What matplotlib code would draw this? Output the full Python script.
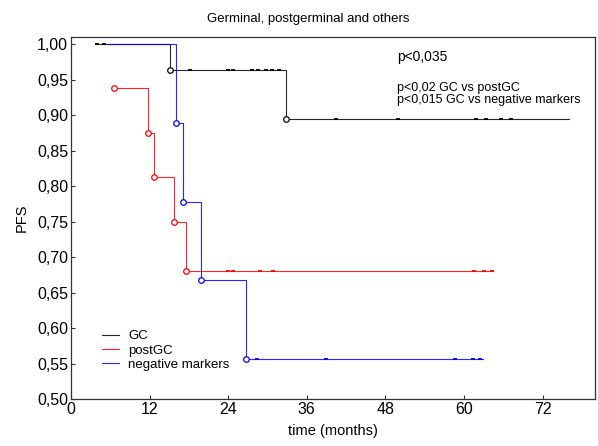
import matplotlib
matplotlib.use("Agg")
import matplotlib.pyplot as plt
from matplotlib.ticker import FuncFormatter

plt.rcParams['font.family'] = ['Liberation Sans', 'DejaVu Sans']

# Kaplan-Meier step data: start time, event times with survival after each event,
# last follow-up time and censored observation times
gc_start = 4.0
gc_times = [15.1, 32.8]
gc_surv = [0.963, 0.894]
gc_end = 76.0
gc_censor_t = [4.0, 5.0, 18.2, 24.0, 24.8, 27.7, 28.6, 29.7, 30.7, 31.8,
               40.4, 50.0, 61.8, 63.3, 65.6, 67.1]

post_start = 6.6
post_times = [11.8, 12.7, 15.8, 17.6]
post_surv = [0.875, 0.8125, 0.75, 0.68]
post_first = 0.9375
post_end = 64.3
post_censor_t = [23.9, 24.8, 28.9, 30.9, 61.5, 63.0, 64.3]

neg_start = 5.7
neg_times = [16.0, 17.1, 19.9, 26.7]
neg_surv = [0.889, 0.778, 0.667, 0.556]
neg_end = 62.9
neg_censor_t = [28.4, 39.0, 58.7, 61.3, 62.5]

xticks = [0, 12, 24, 36, 48, 60, 72]
yticks = [0.50, 0.55, 0.60, 0.65, 0.70, 0.75, 0.80, 0.85, 0.90, 0.95, 1.00]


def step_curve(start, s0, times, surv, end):
    xs, ys = [start], [s0]
    cur = s0
    for t, s in zip(times, surv):
        xs += [t, t]
        ys += [cur, s]
        cur = s
    xs.append(end)
    ys.append(cur)
    return xs, ys


def surv_at(t, s0, times, surv):
    cur = s0
    for tt, s in zip(times, surv):
        if t >= tt:
            cur = s
    return cur


fig = plt.figure(figsize=(5.98, 4.46), dpi=100)
ax = fig.add_axes([0.1187, 0.1054, 0.8763, 0.8116])

groups = [
    ("GC", "black", gc_start, 1.0, gc_times, gc_surv, gc_end, gc_censor_t, False),
    ("postGC", "red", post_start, post_first, post_times, post_surv, post_end, post_censor_t, True),
    ("negative markers", "blue", neg_start, 1.0, neg_times, neg_surv, neg_end, neg_censor_t, False),
]

handles = []
for name, col, t0, s0, times, surv, end, cens, first_mark in groups:
    xs, ys = step_curve(t0, s0, times, surv, end)
    h, = ax.plot(xs, ys, color=col, lw=0.8, alpha=0.85, zorder=3)
    handles.append(h)
    mx = list(times)
    my = list(surv)
    if first_mark:
        mx = [t0] + mx
        my = [s0] + my
    ax.plot(mx, my, ls='none', marker='o', ms=4, mfc='white', mec=col, mew=0.9, zorder=4)
    cy = [surv_at(t, s0, times, surv) for t in cens]
    ax.plot(cens, cy, ls='none', marker='_', ms=3, mec=col, mew=1.3, zorder=3)

ax.set_xlim(0, 80)
ax.set_ylim(0.5, 1.01)
ax.set_xticks(xticks)
ax.set_yticks(yticks)
ax.yaxis.set_major_formatter(FuncFormatter(lambda v, p: f"{v:.2f}".replace('.', ',')))
ax.tick_params(direction='in', length=3, width=0.8, labelsize=11.5, colors='#333333',
               labelcolor='black', pad=2)
for sp in ax.spines.values():
    sp.set_color('#333333')
    sp.set_linewidth(0.9)

ax.set_xlabel("time (months)", fontsize=10.5, labelpad=5)
ax.set_ylabel("PFS", fontsize=10.5, labelpad=6)
fig.text(0.515, 0.958, "Germinal, postgerminal and others", ha='center', va='center', fontsize=9.5)

ax.text(0.622, 0.945, "p<0,035", transform=ax.transAxes, fontsize=10, va='center')
ax.text(0.622, 0.843, "p<0,02 GC vs postGC\np<0,015 GC vs negative markers",
        transform=ax.transAxes, fontsize=9, va='center', linespacing=1.05)

ax.legend(handles, [g[0] for g in groups], loc='upper left', bbox_to_anchor=(0.059, 0.19),
          frameon=False, fontsize=9.5, handlelength=1.3, handletextpad=0.7,
          labelspacing=0.15, borderpad=0, borderaxespad=0)

fig.savefig("out.png", dpi=100)
